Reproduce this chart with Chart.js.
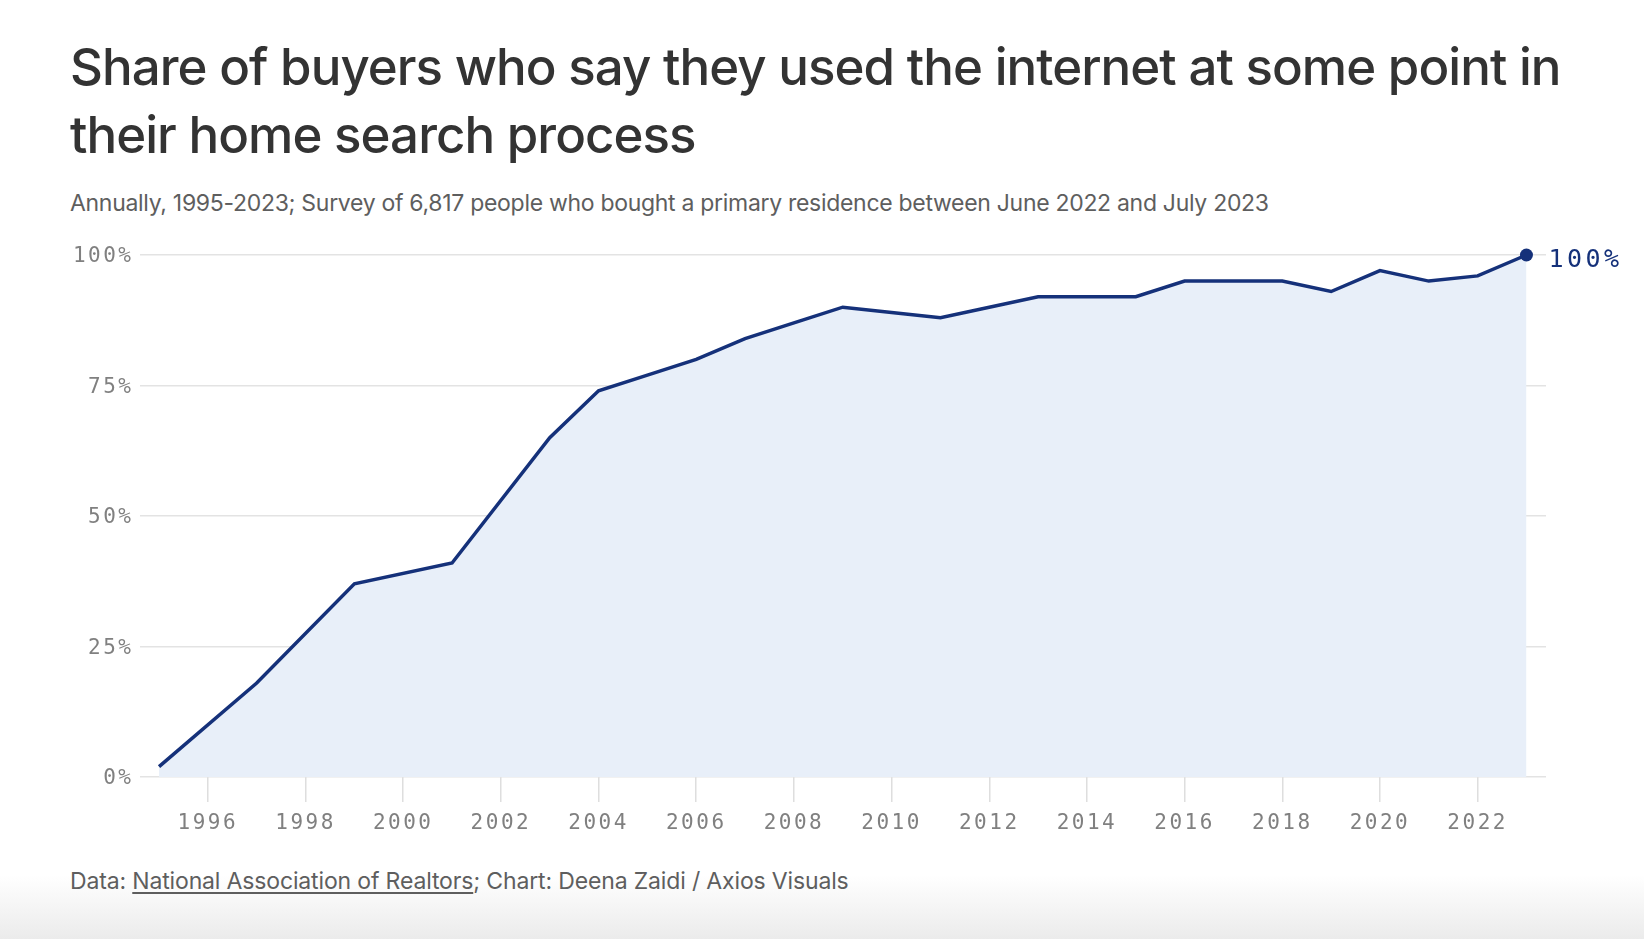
<!DOCTYPE html>
<html>
<head>
<meta charset="utf-8">
<title>Share of buyers who used the internet</title>
<script src="https://cdn.jsdelivr.net/npm/chart.js@4"></script>
<style>
    html, body {
        margin: 0;
        padding: 0;
        width: 1644px;
        height: 939px;
        overflow: hidden;
        background: #fff;
        font-family: Inter, "Noto Sans", sans-serif;
    }
    .title {
        position: absolute;
        left: 70px;
        top: 33px;
        font-size: 51px;
        line-height: 68px;
        font-weight: 500;
        letter-spacing: -0.95px;
        color: #333;
    }
    .subtitle {
        position: absolute;
        left: 70px;
        top: 189px;
        font-size: 23px;
        letter-spacing: -0.3px;
        color: #5e5e5e;
    }
    .chart-wrap {
        position: absolute;
        left: 0;
        top: 230px;
        width: 1644px;
        height: 610px;
    }
    .footer {
        position: absolute;
        left: 70px;
        top: 867px;
        font-size: 23px;
        letter-spacing: -0.15px;
        color: #5e5e5e;
    }
    .footer u {
        text-underline-offset: 3px;
    }
    .fade {
        position: absolute;
        left: 0;
        top: 875px;
        width: 1644px;
        height: 64px;
        background: linear-gradient(to bottom, #fff, #ebebeb);
    }
</style>
</head>
<body>
<div class="fade"></div>
<div class="title">Share of buyers who say they used the internet at some point in<br>their home search process</div>
<div class="subtitle">Annually, 1995-2023; Survey of 6,817 people who bought a primary residence between June 2022 and July 2023</div>
<div class="chart-wrap"><canvas id="chart"></canvas></div>
<div class="footer">Data: <u>National Association of Realtors</u>; Chart: Deena Zaidi / Axios Visuals</div>

<script>
// Survey years and share of buyers (%)
const years = [1995, 1997, 1999, 2001, 2003, 2004, 2005, 2006, 2007, 2008, 2009, 2010,
    2011, 2012, 2013, 2014, 2015, 2016, 2017, 2018, 2019, 2020, 2021, 2022, 2023];
const shares = [2, 18, 37, 41, 65, 74, 77, 80, 84, 87, 90, 89,
    88, 90, 92, 92, 92, 95, 95, 95, 93, 97, 95, 96, 100];

// Axis ticks
const xTickYears = [1996, 1998, 2000, 2002, 2004, 2006, 2008, 2010, 2012, 2014, 2016, 2018, 2020, 2022];
const yTickValues = [0, 25, 50, 75, 100];

const LINE_COLOR = '#15317a';
const FILL_COLOR = '#e8eff9';
const TICK_COLOR = '#808080';
const MONO = '"DejaVu Sans Mono", "Liberation Mono", monospace';

const points = years.map((year, i) => ({ x: year, y: shares[i] }));
const lastIndex = points.length - 1;

// Mono tick labels in the reference are widely spaced
const letterSpacingPlugin = {
    id: 'letterSpacing',
    beforeInit(chart) {
        chart.ctx.letterSpacing = '2.5px';
    },
    beforeDraw(chart) {
        chart.ctx.letterSpacing = '2.5px';
    }
};

// Value label next to the final point
const endLabelPlugin = {
    id: 'endLabel',
    afterDatasetsDraw(chart) {
        const meta = chart.getDatasetMeta(0);
        const last = meta.data[lastIndex];
        if (!last) return;

        const ctx = chart.ctx;
        ctx.save();
        ctx.letterSpacing = '3.5px';
        ctx.font = '25px ' + MONO;
        ctx.fillStyle = LINE_COLOR;
        ctx.textAlign = 'left';
        ctx.textBaseline = 'middle';
        ctx.fillText(shares[lastIndex] + '%', last.x + 22, last.y + 5);
        ctx.restore();
    }
};

new Chart(document.getElementById('chart'), {
    type: 'line',
    data: {
        datasets: [{
            data: points,
            borderColor: LINE_COLOR,
            borderWidth: 3.5,
            backgroundColor: FILL_COLOR,
            fill: 'origin',
            clip: false,
            tension: 0,
            pointRadius: (ctx) => ctx.dataIndex === lastIndex ? 6.5 : 0,
            pointHoverRadius: 0,
            pointBackgroundColor: LINE_COLOR,
            pointBorderWidth: 0
        }]
    },
    options: {
        responsive: true,
        maintainAspectRatio: false,
        animation: false,
        events: [],
        layout: {
            padding: { top: 25, right: 98, bottom: 0, left: 0 }
        },
        plugins: {
            legend: { display: false },
            tooltip: { enabled: false }
        },
        scales: {
            x: {
                type: 'linear',
                min: 1994.6,
                max: 2023.4,
                afterBuildTicks(scale) {
                    scale.ticks = xTickYears.map(v => ({ value: v }));
                },
                afterFit(scale) {
                    scale.height = 63;
                },
                border: { display: false },
                grid: {
                    drawOnChartArea: false,
                    drawTicks: true,
                    tickLength: 25,
                    tickColor: '#dedede',
                    lineWidth: 1.5
                },
                ticks: {
                    padding: 9,
                    color: TICK_COLOR,
                    font: { family: MONO, size: 21 },
                    maxRotation: 0,
                    callback: (value) => String(value)
                }
            },
            y: {
                min: 0,
                max: 100,
                afterBuildTicks(scale) {
                    scale.ticks = yTickValues.map(v => ({ value: v }));
                },
                afterFit(scale) {
                    scale.width = 139.5;
                },
                border: { display: false },
                grid: {
                    drawTicks: false,
                    color: '#e3e3e3',
                    lineWidth: 1.5
                },
                ticks: {
                    padding: 6,
                    labelOffset: 2,
                    color: TICK_COLOR,
                    font: { family: MONO, size: 21 },
                    callback: (value) => value + '%'
                }
            }
        }
    },
    plugins: [letterSpacingPlugin, endLabelPlugin]
});
</script>
</body>
</html>
